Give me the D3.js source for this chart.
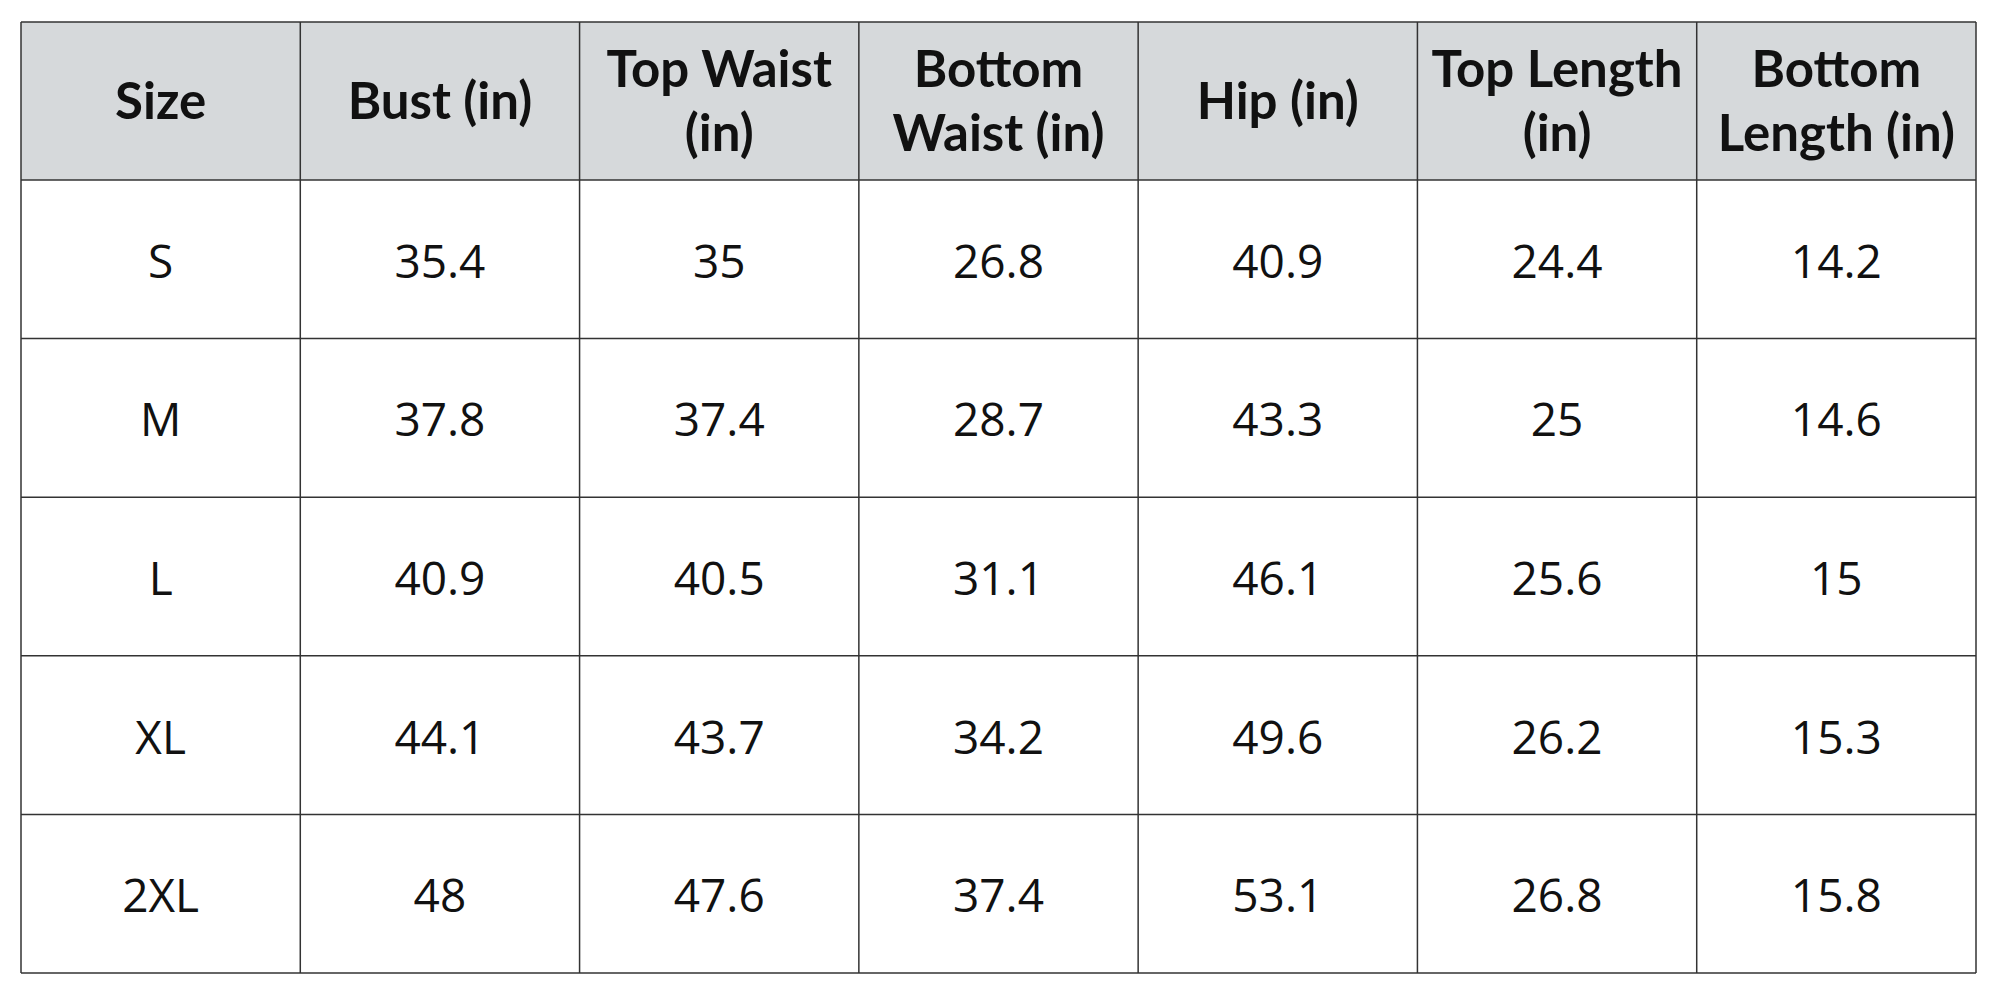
<!DOCTYPE html>
<html><head><meta charset="utf-8">
<script src="https://cdn.jsdelivr.net/npm/d3@7"></script>
<style>html,body{margin:0;padding:0;background:#fff;}</style>
</head><body>
<svg id="c" width="2000" height="1000"></svg>
<script>
const headers = [["Size"],["Bust (in)"],["Top Waist","(in)"],["Bottom","Waist (in)"],["Hip (in)"],["Top Length","(in)"],["Bottom","Length (in)"]];
const sizes = ["S","M","L","XL","2XL"];
const bust = ["35.4","37.8","40.9","44.1","48"];
const topWaist = ["35","37.4","40.5","43.7","47.6"];
const bottomWaist = ["26.8","28.7","31.1","34.2","37.4"];
const hip = ["40.9","43.3","46.1","49.6","53.1"];
const topLength = ["24.4","25","25.6","26.2","26.8"];
const bottomLength = ["14.2","14.6","15","15.3","15.8"];

const columns = [sizes,bust,topWaist,bottomWaist,hip,topLength,bottomLength];
const svg = d3.select("#c");
const L=21,R=1976,T=22,HB=180,B=973;
const x = d3.scaleBand().domain(d3.range(7)).range([L,R]);
const y = d3.scaleBand().domain(d3.range(5)).range([HB,B]);

svg.append("rect").attr("x",L).attr("y",T).attr("width",R-L).attr("height",HB-T).attr("fill","#d6d9db");

headers.forEach((h,i)=>{
  const cx = x(i)+x.bandwidth()/2, cy=(T+HB)/2;
  const lh=64, start = cy - (h.length-1)*lh/2;
  const t = svg.append("text").attr("text-anchor","middle").attr("font-family","Lato, 'Open Sans', sans-serif")
    .attr("font-weight","bold").attr("font-size",51).attr("fill","#111");
  h.forEach((ln,k)=>t.append("tspan").attr("x",cx).attr("y",start+k*lh).attr("dy","0.36em").text(ln));
});
columns.forEach((col,i)=>{
  col.forEach((v,r)=>{
    svg.append("text").attr("x",x(i)+x.bandwidth()/2).attr("y",y(r)+y.bandwidth()/2+2).attr("dy","0.36em")
      .attr("text-anchor","middle").attr("font-family","'Open Sans', Lato, sans-serif").attr("font-size",46).attr("fill","#111").text(v);
  });
});
const g = svg.append("g").attr("stroke","#333").attr("stroke-width",1.5);
[T,HB,...d3.range(1,5).map(r=>y(r)),B].forEach(yy=>g.append("line").attr("x1",L).attr("x2",R).attr("y1",yy).attr("y2",yy));
[...d3.range(7).map(i=>x(i)),R].forEach(xx=>g.append("line").attr("x1",xx).attr("x2",xx).attr("y1",T).attr("y2",B));
</script>
</body></html>
